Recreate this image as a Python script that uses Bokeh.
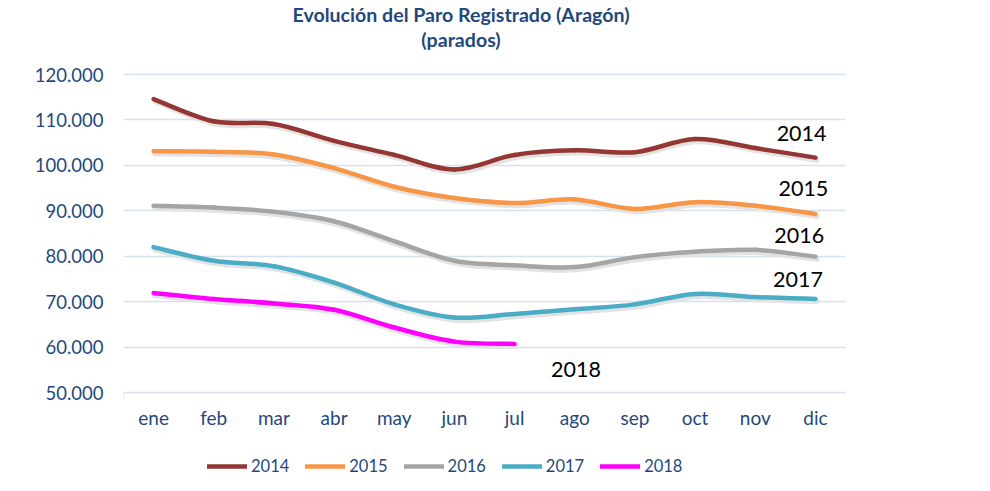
import numpy as np
from bokeh.plotting import figure
from bokeh.models import Range1d, FixedTicker, Legend, LegendItem, Label, ColumnDataSource
from bokeh.core.properties import value
from bokeh.embed import file_html
from bokeh.resources import INLINE

months = ["ene", "feb", "mar", "abr", "may", "jun", "jul", "ago", "sep", "oct", "nov", "dic"]
v2014 = [114600, 109700, 109100, 105400, 102300, 99100, 102300, 103300, 102900, 105800, 103800, 101700]
v2015 = [103100, 103000, 102400, 99400, 95300, 92800, 91700, 92500, 90400, 91900, 91100, 89300]
v2016 = [91100, 90700, 89800, 87700, 83300, 79000, 78000, 77600, 79800, 81000, 81400, 79900]
v2017 = [82000, 79000, 77800, 74200, 69400, 66500, 67300, 68300, 69400, 71700, 71000, 70600]
v2018 = [71900, 70600, 69600, 68200, 64300, 61200, 60700]
years = ["2014", "2015", "2016", "2017", "2018"]
colors = ["#943634", "#F79646", "#A5A5A5", "#4BACC6", "#FF00FF"]
yticks = [50000, 60000, 70000, 80000, 90000, 100000, 110000, 120000]
ytick_labels = ["50.000", "60.000", "70.000", "80.000", "90.000", "100.000", "110.000", "120.000"]
title_lines = ["Evolución del Paro Registrado (Aragón)", "(parados)"]

TXT = "#1F497D"
FONT = "Lato"
GRID = "#D6E0EE"

# layout in pixels: the plotting frame spans the full height so that the
# titles, month labels and legend can live inside it
W, H = 974, 483
LEFT, RIGHT = 123, 845
TOP_GRID, BOT_GRID = 74, 392
scale = (yticks[-1] - yticks[0]) / (BOT_GRID - TOP_GRID)  # value units per px
xscale = 12 / (RIGHT - LEFT)                               # category units per px
y_start = yticks[0] - (H - BOT_GRID) * scale
y_end = yticks[-1] + TOP_GRID * scale


def smooth_source(vals, dx=0.0, dy=0.0):
    y = np.array(vals, dtype=float) + dy
    x = np.arange(1, len(vals) + 1, dtype=float) + dx
    n = len(y)
    xp = np.concatenate([[x[0]], x, [x[-1]]])
    yp = np.concatenate([[y[0]], y, [y[-1]]])
    cx0 = xp[1:n] + (xp[2:n + 1] - xp[0:n - 1]) / 6
    cy0 = yp[1:n] + (yp[2:n + 1] - yp[0:n - 1]) / 6
    cx1 = xp[2:n + 1] - (xp[3:n + 2] - xp[1:n]) / 6
    cy1 = yp[2:n + 1] - (yp[3:n + 2] - yp[1:n]) / 6
    return ColumnDataSource(dict(x0=x[:-1], y0=y[:-1], x1=x[1:], y1=y[1:],
                                 cx0=cx0, cy0=cy0, cx1=cx1, cy1=cy1))


p = figure(width=W, height=H, output_backend="svg", toolbar_location=None,
           x_range=Range1d(0.5, 12.5), y_range=Range1d(y_start, y_end),
           min_border_left=LEFT, min_border_right=W - RIGHT, min_border_top=0,
           min_border_bottom=0)
p.outline_line_color = None
p.background_fill_color = "white"
p.border_fill_color = "white"

p.xaxis.visible = False
p.xgrid.grid_line_color = None

p.yaxis.ticker = FixedTicker(ticks=yticks)
p.yaxis.major_label_overrides = {t: l for t, l in zip(yticks, ytick_labels)}
p.yaxis.major_label_text_font = FONT
p.yaxis.major_label_text_font_size = "18.5px"
p.yaxis.major_label_text_color = TXT
p.yaxis.major_label_standoff = 20
p.yaxis.major_tick_out = 0
p.yaxis.major_tick_in = 0
p.yaxis.major_tick_line_color = None
p.yaxis.minor_tick_line_color = None
p.yaxis.axis_line_color = None

p.ygrid.grid_line_color = GRID
p.ygrid.grid_line_width = 1.3

# small tick at the left end of the category axis
p.segment(x0=[0.5], y0=[yticks[0]], x1=[0.5], y1=[yticks[0] - 6 * scale],
          line_color=GRID, line_width=1.3)

# category labels along the bottom gridline
month_y = yticks[0] - 25 * scale
p.text(x=list(range(1, 13)), y=[month_y] * 12, text=months, text_font=value(FONT),
       text_font_size="19px", text_color=TXT, text_align="center", text_baseline="middle")

series = [v2014, v2015, v2016, v2017, v2018]
# soft drop shadows under the lines
for vals in series:
    p.bezier(x0="x0", y0="y0", x1="x1", y1="y1", cx0="cx0", cy0="cy0",
             cx1="cx1", cy1="cy1", source=smooth_source(vals, 1.5 * xscale, -2.5 * scale),
             line_color="#E3E3E3", line_width=5.5, line_cap="round")

items = []
for yr, vals, c in zip(years, series, colors):
    r = p.bezier(x0="x0", y0="y0", x1="x1", y1="y1", cx0="cx0", cy0="cy0",
                 cx1="cx1", cy1="cy1", source=smooth_source(vals), line_color=c,
                 line_width=4.5, line_cap="round")
    items.append(LegendItem(label=yr, renderers=[r]))

legend = Legend(items=items, orientation="horizontal", location=(84, 7),
                glyph_width=40, glyph_height=20, label_standoff=4, spacing=16,
                margin=0, padding=4, border_line_color=None, background_fill_alpha=0,
                label_text_font=FONT, label_text_font_size="16.5px", label_text_color=TXT)
p.add_layout(legend, "center")

# titles
for txt, ty in zip(title_lines, [yticks[-1] + 60 * scale, yticks[-1] + 35 * scale]):
    p.add_layout(Label(x=6.11, y=ty, text=txt, text_font=FONT, text_font_size="19.6px",
                       text_font_style="bold", text_color=TXT, text_align="center",
                       text_baseline="middle"))

# year labels on the chart
label_pos = [(11.77, 107000), (11.80, 94900), (11.73, 84560), (11.71, 74940), (8.02, 54960)]
for yr, (lx, ly) in zip(years, label_pos):
    p.add_layout(Label(x=lx, y=ly, text=yr, text_font=FONT, text_font_size="21.5px",
                       text_color="black", text_align="center", text_baseline="middle"))

open("out.html", "w").write(file_html(p, INLINE))
